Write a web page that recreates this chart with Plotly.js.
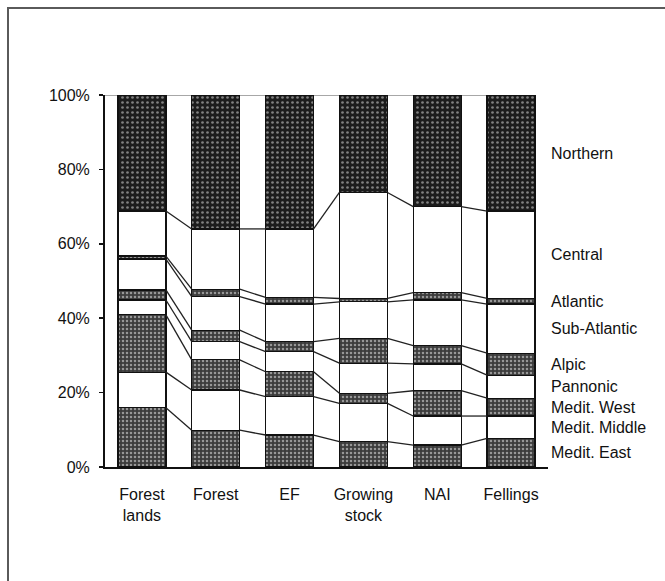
<!DOCTYPE html>
<html>
<head>
<meta charset="utf-8">
<script src="https://cdn.plot.ly/plotly-3.0.1.min.js"></script>
<style>
  html, body { margin: 0; padding: 0; background: #fff; }
  #wrap { position: relative; width: 665px; height: 581px; overflow: hidden; }
  #frame { position: absolute; left: 7px; top: 7px; right: -10px; bottom: -10px;
           border-top: 2px solid #5a5a5a; border-left: 2px solid #5a5a5a; pointer-events: none; z-index: 5; }
  #chart { position: absolute; left: 0; top: 0; width: 665px; height: 581px; }
</style>
</head>
<body>
<div id="wrap">
  <div id="chart"></div>
  <div id="frame"></div>
</div>
<script>
// ---- data (percent shares, bottom to top) ----
const categories = ['Forest<br>lands', 'Forest', 'EF', 'Growing<br>stock', 'NAI', 'Fellings'];
const seriesNames = ['Medit. East', 'Medit. Middle', 'Medit. West', 'Pannonic', 'Alpic',
                     'Sub-Atlantic', 'Atlantic', 'Central', 'Northern'];
const meditEast   = [15.9,  9.9,  8.6,  6.8,  5.9,  7.7];
const meditMiddle = [ 9.6, 10.8, 10.3, 10.3,  7.8,  6.0];
const meditWest   = [15.4,  8.1,  6.7,  2.7,  6.8,  4.8];
const pannonic    = [ 4.0,  4.9,  5.4,  8.1,  7.2,  6.2];
const alpic       = [ 2.7,  3.1,  2.7,  6.7,  4.9,  5.9];
const subAtlantic = [ 8.3,  9.0, 10.1,  9.8, 12.3, 13.2];
const atlantic    = [ 0.8,  2.0,  1.8,  0.9,  2.0,  1.5];
const central     = [12.1, 16.2, 18.4, 28.5, 23.1, 23.5];
const northern    = [31.2, 36.0, 36.0, 26.2, 30.0, 31.2];
const yTickVals   = [0, 20, 40, 60, 80, 100];

const seriesValues = [meditEast, meditMiddle, meditWest, pannonic, alpic,
                      subAtlantic, atlantic, central, northern];

// ---- styling ----
const barWidth = 0.65;
const half = barWidth / 2;
const xs = categories.map((c, i) => i);

function fillFor(k) {
  if (k === 8) return { color: '#1c1c1c', pattern: { shape: '.', fillmode: 'overlay', bgcolor: '#1c1c1c', fgcolor: '#e8e8e8', size: 5, solidity: 0.22 } };
  if (k % 2 === 0) return { color: '#3c3c3c', pattern: { shape: '.', fillmode: 'overlay', bgcolor: '#3c3c3c', fgcolor: '#f2f2f2', size: 4, solidity: 0.32 } };
  return { color: '#ffffff' };
}

const traces = [];
seriesValues.forEach((vals, k) => {
  const f = fillFor(k);
  const marker = { color: f.color, line: { color: '#111', width: 1.2 } };
  if (f.pattern) marker.pattern = f.pattern;
  traces.push({
    type: 'bar', x: xs, y: vals, width: barWidth, name: seriesNames[k],
    marker: marker, hoverinfo: 'skip', showlegend: false
  });
});

// cumulative tops for connecting lines
const cum = [];
let running = xs.map(() => 0);
seriesValues.forEach(vals => {
  running = running.map((r, i) => r + vals[i]);
  cum.push(running.slice());
});

for (let k = 0; k < cum.length - 1; k++) {
  const lx = [], ly = [];
  for (let i = 0; i < xs.length - 1; i++) {
    lx.push(xs[i] + half, xs[i + 1] - half, null);
    ly.push(cum[k][i], cum[k][i + 1], null);
  }
  traces.push({
    type: 'scatter', mode: 'lines', x: lx, y: ly, connectgaps: false,
    line: { color: '#222', width: 1.3 }, hoverinfo: 'skip', showlegend: false, cliponaxis: false
  });
}

// right-hand labels at the middle of the last bar's segments
const last = xs.length - 1;
const annotations = seriesNames.map((name, k) => {
  const top = cum[k][last];
  const bottom = k === 0 ? 0 : cum[k - 1][last];
  return {
    xref: 'x', yref: 'y', x: xs.length - 0.5, y: (top + bottom) / 2,
    xanchor: 'left', yanchor: 'middle', xshift: 1, text: name, showarrow: false,
    font: { size: 16, color: '#111' }
  };
});

const fontFam = 'Arial, "Liberation Sans", Helvetica, sans-serif';
const layout = {
  width: 665, height: 581,
  margin: { l: 105, r: 117, t: 95, b: 114 },
  paper_bgcolor: '#ffffff', plot_bgcolor: '#ffffff',
  font: { family: fontFam, size: 16, color: '#111' },
  barmode: 'stack', bargap: 0.35,
  showlegend: false,
  xaxis: {
    range: [-0.5, xs.length - 0.5], tickvals: xs, ticktext: categories,
    ticks: '', showgrid: false, zeroline: false, showline: true,
    linecolor: '#111', linewidth: 2, ticklabelstandoff: 12,
    tickfont: { size: 16, color: '#111' }, fixedrange: true
  },
  xaxis2: {
    overlaying: 'x', anchor: 'y', range: [-0.5, xs.length - 0.5],
    tickvals: xs.map(i => i + 0.5), ticks: 'outside', ticklen: 5, tickwidth: 1.5, tickcolor: '#111',
    showticklabels: false, showgrid: false, zeroline: false, showline: false, side: 'bottom'
  },
  xaxis3: {
    overlaying: 'x', anchor: 'y', range: [-0.5, xs.length - 0.5],
    tickvals: xs.map(i => i + 0.5), ticks: 'inside', ticklen: 5, tickwidth: 1.5, tickcolor: '#111',
    showticklabels: false, showgrid: false, zeroline: false, showline: false, side: 'bottom'
  },
  yaxis: {
    range: [0, 100], tickvals: yTickVals, ticktext: yTickVals.map(v => v + '%'),
    ticks: 'outside', ticklen: 4, tickwidth: 1.5, tickcolor: '#111',
    showgrid: false, zeroline: false, showline: true, linecolor: '#111', linewidth: 2,
    ticklabelstandoff: 6, tickfont: { size: 16, color: '#111' }, fixedrange: true
  },
  yaxis2: {
    overlaying: 'y', anchor: 'x', range: [0, 100], tickvals: yTickVals,
    ticks: 'inside', ticklen: 4, tickwidth: 1.5, tickcolor: '#111',
    showticklabels: false, showgrid: false, zeroline: false, showline: false, side: 'left'
  },
  shapes: [{
    type: 'line', xref: 'x', yref: 'y', x0: -0.5, x1: last + half, y0: 100, y1: 100,
    line: { color: '#8a8a8a', width: 1.5 }, layer: 'below'
  }],
  annotations: annotations
};

Plotly.newPlot('chart', traces, layout, { staticPlot: true, displayModeBar: false });
</script>
</body>
</html>
